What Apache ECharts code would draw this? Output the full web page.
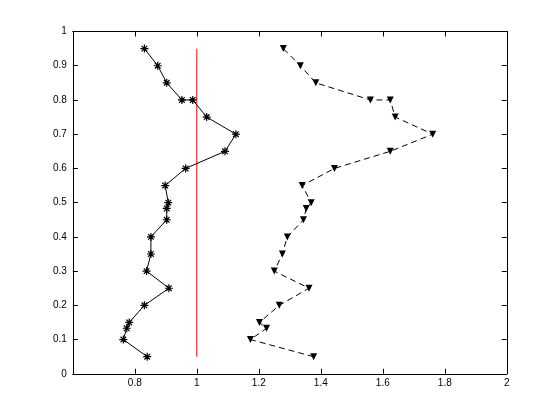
<!DOCTYPE html>
<html><head><meta charset="utf-8">
<script src="https://cdn.jsdelivr.net/npm/echarts@6/dist/echarts.min.js"></script>
<style>html,body{margin:0;padding:0;background:#fff}#c{width:560px;height:420px}</style>
</head><body><div id="c"></div>
<script>
const yLevels = [0.05,0.10,0.133,0.15,0.20,0.25,0.30,0.35,0.40,0.45,0.483,0.50,0.55,0.60,0.65,0.70,0.75,0.80,0.80,0.85,0.90,0.95];
const starX = [0.840,0.763,0.774,0.782,0.831,0.910,0.838,0.852,0.852,0.903,0.903,0.908,0.898,0.964,1.091,1.126,1.032,0.987,0.952,0.903,0.874,0.831];
const triX  = [1.377,1.173,1.225,1.202,1.266,1.362,1.250,1.276,1.292,1.344,1.353,1.369,1.340,1.444,1.624,1.761,1.640,1.624,1.560,1.384,1.334,1.279];
const refX = [1, 1];
const refY = [0.05, 0.95];
const xTicks = {min:0.6, max:2, interval:0.2};
const yTicks = {min:0, max:1, interval:0.1};

const pairs = (xs, ys) => xs.map((x,i)=>[x, ys[i]]);
const font = {color:'#000', fontSize:10, fontFamily:'Liberation Sans, Arial, sans-serif'};
const axLine = () => ({show:true, onZero:false, lineStyle:{color:'#000', width:1}});
const tick = () => ({show:true, inside:true, length:5, lineStyle:{color:'#000', width:1}});
const star = 'path://M0,5L10,5M5,0L5,10M1.5,1.5L8.5,8.5M8.5,1.5L1.5,8.5';

const chart = echarts.init(document.getElementById('c'), null, {renderer:'canvas'});
chart.setOption({
  backgroundColor:'#fff',
  animation:false,
  grid:{left:72.8, right:53.2, top:31.5, bottom:46.2, containLabel:false, outerBoundsMode:'none'},
  xAxis:[
    {type:'value', position:'bottom', min:xTicks.min, max:xTicks.max, interval:xTicks.interval,
     axisLine:axLine(), axisTick:tick(),
     axisLabel:Object.assign({showMinLabel:false, margin:4, formatter:v=>String(+v.toFixed(1))}, font),
     splitLine:{show:false}},
    {type:'value', position:'top', min:xTicks.min, max:xTicks.max, interval:xTicks.interval,
     axisLine:axLine(), axisTick:tick(),
     axisLabel:{show:false}, splitLine:{show:false}}
  ],
  yAxis:[
    {type:'value', position:'left', min:yTicks.min, max:yTicks.max, interval:yTicks.interval,
     axisLine:axLine(), axisTick:tick(),
     axisLabel:Object.assign({margin:6, formatter:v=>String(+v.toFixed(1))}, font),
     splitLine:{show:false}},
    {type:'value', position:'right', min:yTicks.min, max:yTicks.max, interval:yTicks.interval,
     axisLine:axLine(), axisTick:tick(),
     axisLabel:{show:false}, splitLine:{show:false}}
  ],
  series:[
    {type:'line', data:pairs(starX, yLevels), symbol:star, symbolSize:8, showAllSymbol:true,
     lineStyle:{color:'#000', width:1}, itemStyle:{color:'rgba(0,0,0,0)', borderColor:'#000', borderWidth:1.2}, z:3},
    {type:'line', data:pairs(triX, yLevels), symbol:'triangle', symbolRotate:180, symbolSize:7, showAllSymbol:true,
     lineStyle:{color:'#000', width:1, type:[6,4]}, itemStyle:{color:'#000'}, z:3},
    {type:'line', data:pairs(refX, refY), symbol:'none', lineStyle:{color:'#ff0000', width:1}, z:2}
  ]
});
</script></body></html>
